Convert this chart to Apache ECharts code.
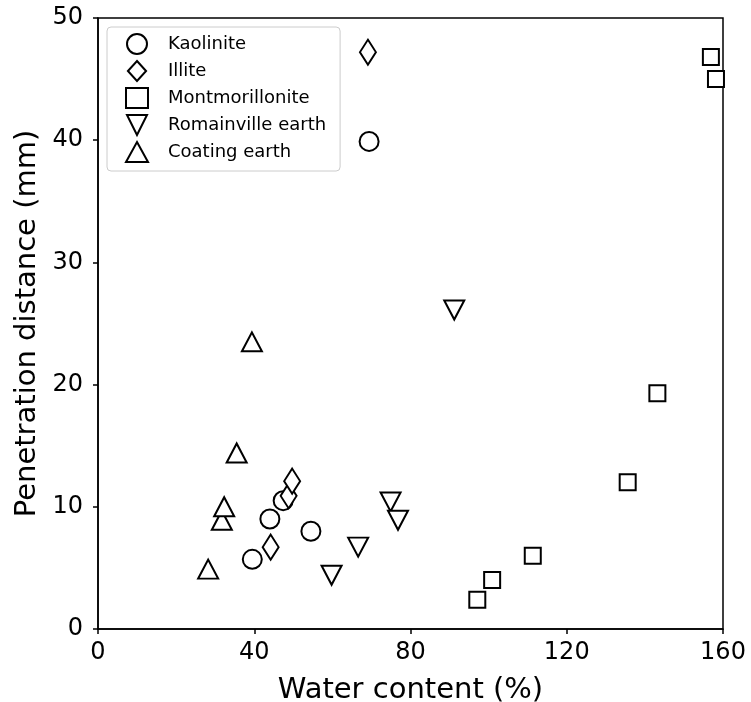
<!DOCTYPE html>
<html>
<head>
<meta charset="utf-8">
<script src="https://cdn.jsdelivr.net/npm/echarts@6/dist/echarts.min.js"></script>
<style>
  html, body { margin: 0; padding: 0; background: #fff; }
  #main { width: 751px; height: 702px; }
</style>
</head>
<body>
<div id="main"></div>
<script>
// values: [water content %, penetration distance mm]
var kaolinite = [[39.5, 5.7], [44.0, 9.0], [47.4, 10.5], [54.5, 8.0], [69.4, 39.9]];
var illite = [[44.2, 6.7], [48.8, 10.9], [49.7, 12.1], [69.1, 47.2]];
var montmorillonite = [[97.1, 2.4], [100.9, 4.0], [111.3, 6.0], [135.6, 12.0], [143.2, 19.3], [156.9, 46.8], [158.2, 45.0]];
var romainville = [[59.8, 4.4], [66.6, 6.7], [74.9, 10.4], [76.8, 8.9], [91.2, 26.1]];
var coating = [[28.2, 4.9], [31.7, 8.9], [32.3, 10.0], [35.5, 14.4], [39.4, 23.5]];
var seriesNames = ['Kaolinite', 'Illite', 'Montmorillonite', 'Romainville earth', 'Coating earth'];

var font = 'DejaVu Sans';
var chart = echarts.init(document.getElementById('main'));

var downTri = 'path://M0,0L2,0L1,2z';
var thinDiamond = 'path://M8,0L16,12.5L8,25L0,12.5z';

function makeSeries(name, data, symbol, size) {
  return {
    name: name,
    type: 'scatter',
    data: data,
    symbol: symbol,
    symbolSize: size,
    itemStyle: { color: '#fff', borderColor: '#000', borderWidth: 2, opacity: 1 },
    emphasis: { disabled: true }
  };
}

var option = {
  animation: false,
  backgroundColor: '#fff',
  grid: {
    left: 98, right: 28, top: 18, bottom: 73,
    containLabel: false, outerBoundsMode: 'none',
    show: true, borderColor: '#000', borderWidth: 1.5
  },
  legend: {
    orient: 'vertical',
    left: 107, top: 27,
    padding: [6, 14, 8, 18],
    itemGap: 5,
    itemWidth: 22, itemHeight: 20,
    borderColor: '#cccccc', borderWidth: 1, borderRadius: 4,
    backgroundColor: '#fff',
    textStyle: { fontFamily: font, fontSize: 18, color: '#000', padding: [0, 0, 0, 15] },
    data: [
      { name: seriesNames[0], icon: 'circle' },
      { name: seriesNames[1], icon: 'path://M10,0L20,11L10,22L0,11z' },
      { name: seriesNames[2], icon: 'rect' },
      { name: seriesNames[3], icon: downTri },
      { name: seriesNames[4], icon: 'triangle' }
    ]
  },
  xAxis: {
    type: 'value', min: 0, max: 160, interval: 40,
    name: 'Water content (%)', nameLocation: 'middle', nameGap: 47,
    nameTextStyle: { fontFamily: font, fontSize: 29, color: '#000' },
    axisLine: { show: true, lineStyle: { color: '#000', width: 1.5 } },
    axisTick: { show: true, length: 5, lineStyle: { color: '#000', width: 1.5 } },
    axisLabel: { fontFamily: font, fontSize: 24, color: '#000', margin: 12 },
    splitLine: { show: false }
  },
  yAxis: {
    type: 'value', min: 0, max: 50, interval: 10,
    name: 'Penetration distance (mm)', nameLocation: 'middle', nameGap: 55,
    nameTextStyle: { fontFamily: font, fontSize: 29, color: '#000' },
    axisLine: { show: true, lineStyle: { color: '#000', width: 1.5 } },
    axisTick: { show: true, length: 5, lineStyle: { color: '#000', width: 1.5 } },
    axisLabel: { fontFamily: font, fontSize: 24, color: '#000', margin: 15 },
    splitLine: { show: false }
  },
  series: [
    makeSeries(seriesNames[0], kaolinite, 'circle', 19),
    makeSeries(seriesNames[1], illite, thinDiamond, [16, 25]),
    makeSeries(seriesNames[2], montmorillonite, 'rect', 16),
    makeSeries(seriesNames[3], romainville, downTri, [20, 19]),
    makeSeries(seriesNames[4], coating, 'triangle', [20, 19])
  ]
};

chart.setOption(option);
</script>
</body>
</html>
